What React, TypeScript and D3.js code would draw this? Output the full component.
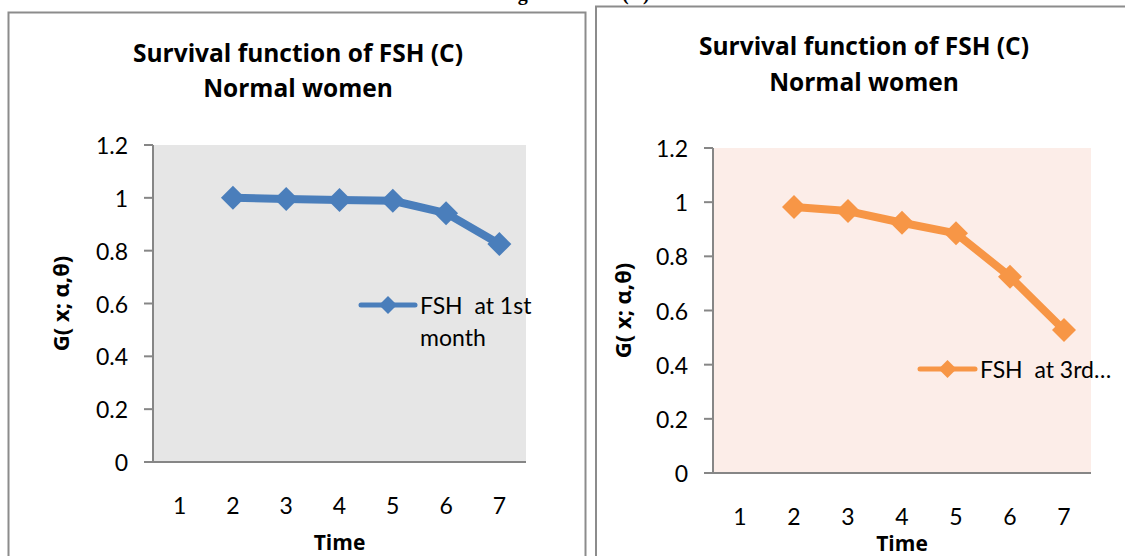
import React from "react";
import * as d3 from "d3";

// Time categories shown on the horizontal axis
const timeLabels = ["1", "2", "3", "4", "5", "6", "7"];
// Y axis ticks
const yTicks = [0, 0.2, 0.4, 0.6, 0.8, 1.0, 1.2];
// Survival values G(x; α,θ); the first time point has no value
const fshFirstMonth: (number | null)[] = [null, 1.0, 0.996, 0.992, 0.989, 0.942, 0.825];
const fshThirdMonth: (number | null)[] = [null, 0.982, 0.967, 0.924, 0.885, 0.725, 0.528];

const titleLine1 = "Survival function of FSH (C)";
const titleLine2 = "Normal women";
const yAxisTitle = "G( x; α,θ)";
const xAxisTitle = "Time";

const FONT = "Lato, 'Open Sans', sans-serif";
const BOLD_FONT = "'Open Sans', Lato, sans-serif";

type PanelProps = {
  values: (number | null)[];
  color: string;
  bg: string;
  plot: { left: number; right: number; top: number; bottom: number };
  titleX: number;
  titleY: [number, number];
  yTitleX: number;
  xLabelY: number;
  xTitleY: number;
  legend: { x1: number; x2: number; y: number; lines: string[] };
};

function Panel(p: PanelProps) {
  const x = d3.scaleBand<string>().domain(timeLabels).range([p.plot.left, p.plot.right]).padding(0);
  const y = d3.scaleLinear().domain([0, 1.2]).range([p.plot.bottom, p.plot.top]);
  const cx = (c: string) => (x(c) as number) + x.bandwidth() / 2;
  const pts = timeLabels
    .map((c, i) => ({ c, v: p.values[i] }))
    .filter((d) => d.v !== null) as { c: string; v: number }[];
  const line = d3
    .line<{ c: string; v: number }>()
    .x((d) => cx(d.c))
    .y((d) => y(d.v));
  const diamond = (r: number) => `M0,${-r}L${r},0L0,${r}L${-r},0Z`;
  const yMid = (p.plot.top + p.plot.bottom) / 2;
  const xMid = (p.plot.left + p.plot.right) / 2;
  const legMid = (p.legend.x1 + p.legend.x2) / 2;
  return (
    <g>
      <text x={p.titleX} y={p.titleY[0]} textAnchor="middle" dominantBaseline="central"
        fontFamily={BOLD_FONT} fontWeight="bold" fontSize={24.5} fill="#000">{titleLine1}</text>
      <text x={p.titleX} y={p.titleY[1]} textAnchor="middle" dominantBaseline="central"
        fontFamily={BOLD_FONT} fontWeight="bold" fontSize={24.5} fill="#000">{titleLine2}</text>
      <rect x={p.plot.left} y={p.plot.top} width={p.plot.right - p.plot.left}
        height={p.plot.bottom - p.plot.top} fill={p.bg} />
      {yTicks.map((t) => (
        <g key={t}>
          <line x1={p.plot.left - 9} x2={p.plot.left} y1={y(t)} y2={y(t)} stroke="#868686" strokeWidth={2} />
          <text x={p.plot.left - 25} y={y(t)} textAnchor="end" dominantBaseline="central"
            fontFamily={FONT} fontSize={23} fill="#000">{String(+t.toFixed(1))}</text>
        </g>
      ))}
      <line x1={p.plot.left} x2={p.plot.left} y1={p.plot.top} y2={p.plot.bottom} stroke="#868686" strokeWidth={2} />
      <line x1={p.plot.left - 9} x2={p.plot.right} y1={p.plot.bottom} y2={p.plot.bottom} stroke="#868686" strokeWidth={2} />
      {timeLabels.map((c) => (
        <text key={c} x={cx(c)} y={p.xLabelY} textAnchor="middle" dominantBaseline="central"
          fontFamily={FONT} fontSize={23} fill="#000">{c}</text>
      ))}
      <text x={xMid} y={p.xTitleY} textAnchor="middle" dominantBaseline="central"
        fontFamily={BOLD_FONT} fontWeight="bold" fontSize={21} fill="#000">{xAxisTitle}</text>
      <text transform={`translate(${p.yTitleX},${yMid}) rotate(-90)`} textAnchor="middle"
        dominantBaseline="central" fontFamily={BOLD_FONT} fontWeight="bold" fontSize={22} fill="#000">{yAxisTitle}</text>
      <path d={line(pts) || ""} fill="none" stroke={p.color} strokeWidth={8} strokeLinejoin="round" />
      {pts.map((d) => (
        <path key={d.c} d={diamond(12)} transform={`translate(${cx(d.c)},${y(d.v)})`} fill={p.color} />
      ))}
      <line x1={p.legend.x1} x2={p.legend.x2} y1={p.legend.y} y2={p.legend.y} stroke={p.color}
        strokeWidth={5} strokeLinecap="round" />
      <path d={diamond(9)} transform={`translate(${legMid},${p.legend.y})`} fill={p.color} />
      {p.legend.lines.map((s, i) => (
        <text key={i} x={p.legend.x2 + 5} y={p.legend.y + i * 32} dominantBaseline="central"
          fontFamily={FONT} fontSize={23} fill="#000" style={{ whiteSpace: "pre" }}>{s}</text>
      ))}
    </g>
  );
}

export default function App() {
  return (
    <svg width={1125} height={556} style={{ position: "absolute", left: 0, top: 0, background: "#fff" }}>
      <rect x={0} y={0} width={1125} height={556} fill="#fff" />
      {/* caption line above the panels, mostly above the top edge */}
      <text x={500} y={0} fontFamily="'Liberation Serif', serif" fontWeight="bold" fontSize={20} fill="#000">Fig</text>
      <text x={622} y={0} fontFamily="'Liberation Serif', serif" fontWeight="bold" fontSize={20} fill="#000">(C)</text>
      <rect x={8.5} y={12.5} width={577} height={560} fill="none" stroke="#8c8c8c" strokeWidth={2} />
      <rect x={596} y={6.5} width={560} height={570} fill="none" stroke="#8c8c8c" strokeWidth={2} />
      <Panel
        values={fshFirstMonth}
        color="#4a7ebb"
        bg="#e6e6e6"
        plot={{ left: 153, right: 526, top: 145, bottom: 462 }}
        titleX={298}
        titleY={[52, 87]}
        yTitleX={60}
        xLabelY={505}
        xTitleY={542}
        legend={{ x1: 361, x2: 415, y: 305, lines: ["FSH  at 1st", "month"] }}
      />
      <Panel
        values={fshThirdMonth}
        color="#f79646"
        bg="#fcede8"
        plot={{ left: 713, right: 1091, top: 148, bottom: 473 }}
        titleX={864}
        titleY={[45, 81]}
        yTitleX={622}
        xLabelY={516}
        xTitleY={543}
        legend={{ x1: 920, x2: 975, y: 369, lines: ["FSH  at 3rd…"] }}
      />
    </svg>
  );
}
